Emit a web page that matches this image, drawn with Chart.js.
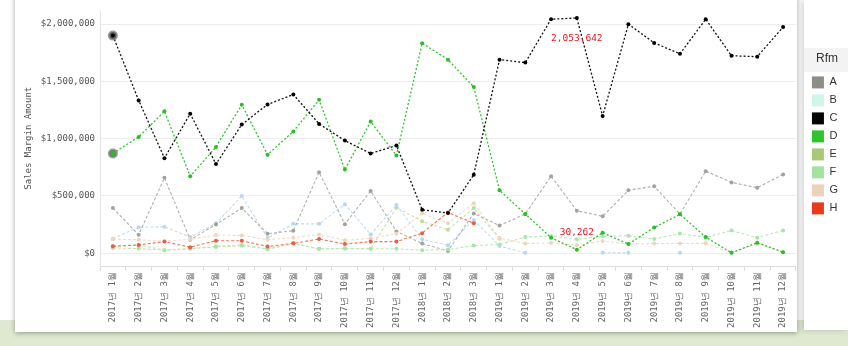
<!DOCTYPE html>
<html>
<head>
<meta charset="utf-8">
<script src="https://cdn.jsdelivr.net/npm/chart.js@4"></script>
<style>
  html, body { margin: 0; padding: 0; }
  body { width: 848px; height: 346px; position: relative; overflow: hidden; background: #fff; }
  .ground { position: absolute; left: 0; top: 320px; width: 848px; height: 26px; background: #dfe9d0; }
  .card { position: absolute; left: 15px; top: -8px; width: 782px; height: 340px; background: #fff; box-shadow: 0 1px 5px rgba(0,0,0,.35); }
  .panel { position: absolute; left: 804px; top: 0; width: 44px; height: 330px; background: #fff; box-shadow: -2px 0 6px rgba(0,0,0,.18); }
  .title-band { position: absolute; left: 804px; top: 48px; width: 44px; height: 24px; background: #f3f3f3; }
  #chart { position: absolute; left: 0; top: 0; }
</style>
</head>
<body>
<div class="ground"></div>
<div class="card"></div>
<div class="panel"></div>
<div class="title-band"></div>
<canvas id="chart" width="848" height="346"></canvas>
<script>
const months = [
  '2017년 1월', '2017년 2월', '2017년 3월', '2017년 4월', '2017년 5월', '2017년 6월',
  '2017년 7월', '2017년 8월', '2017년 9월', '2017년 10월', '2017년 11월', '2017년 12월',
  '2018년 1월', '2018년 2월', '2018년 3월',
  '2019년 1월', '2019년 2월', '2019년 3월', '2019년 4월', '2019년 5월', '2019년 6월',
  '2019년 7월', '2019년 8월', '2019년 9월', '2019년 10월', '2019년 11월', '2019년 12월'
];

const rfmA = [394000, 161000, 658000, 118000, 250000, 394000, 170000, 196000, 707000, 253000, 543000, 190000,
  84000, 20000, 347000,
  241000, 342000, 672000, 371000, 322000, 549000, 584000, 342000, 716000, 618000, 572000, 687000];
const rfmB = [127000, 227000, 230000, 141000, 261000, 500000, 132000, 256000, 256000, 428000, 164000, 420000,
  121000, 69000, 290000,
  63000, 3000, null, null, 3000, 3000, null, 3000, null, null, null, null];
const rfmC = [1900000, 1334000, 830000, 1218000, 778000, 1123000, 1299000, 1385000, 1129000, 983000, 871000, 940000,
  379000, 350000, 685000,
  1690000, 1664000, 2043000, 2053642, 1198000, 2000000, 1836000, 1741000, 2043000, 1724000, 1716000, 1974000];
const rfmD = [871000, 1015000, 1239000, 672000, 928000, 1296000, 860000, 1063000, 1339000, 730000, 1149000, 853000,
  1834000, 1690000, 1451000,
  549000, 342000, 135000, 30262, 178000, 80000, 224000, 339000, 141000, 3000, 92000, 9000];
const rfmE = [45000, 40000, 26000, 38000, 55000, 65000, 40000, 86000, 38000, 42000, 38000, 399000,
  278000, 204000, 394000,
  125000, null, null, null, null, null, null, null, null, null, null, null];
const rfmF = [62000, 72000, 26000, 40000, 60000, 72000, 34000, 84000, 38000, 40000, 38000, 38000,
  26000, 32000, 66000,
  75000, 141000, 150000, 121000, 147000, 153000, 124000, 171000, 138000, 197000, 135000, 199000];
const rfmG = [121000, 118000, 103000, 121000, 158000, 155000, 118000, 135000, 164000, 112000, 129000, 170000,
  347000, 261000, 437000,
  132000, 84000, 89000, 69000, 106000, 80000, 84000, 84000, 86000, 5000, 85000, 8000];
const rfmH = [60000, 72000, 101000, 52000, 109000, 109000, 58000, 86000, 123000, 80000, 101000, 101000,
  175000, 356000, 261000,
  null, null, null, null, null, null, null, null, null, null, null, null];

const rfmNames = ['A', 'B', 'C', 'D', 'E', 'F', 'G', 'H'];
const rfmSeries = [rfmA, rfmB, rfmC, rfmD, rfmE, rfmF, rfmG, rfmH];
const swatchColors = ['#8d8f86', '#d2f5ea', '#050505', '#2dc42d', '#a8c97a', '#a2e3a2', '#ebd2bb', '#e83a1c'];
const lineColors  = ['#b0b0ab', '#c2dcf0', '#111111', '#2ec52e', '#c9e2ad', '#b9e9b9', '#f1dcc8', '#f3745c'];
const dotColors   = ['#a3a39e', '#b9d7ee', '#000000', '#26c026', '#bcdc98', '#a9e4a9', '#efd5bd', '#f05a3e'];
const drawOrder   = [5, 6, 0, 1, 7, 4, 3, 2];
const yTicks = [0, 500000, 1000000, 1500000, 2000000];

// values printed next to the marks (series index, month index)
const markLabels = [
  { series: 2, index: 18, dy: 21 },
  { series: 3, index: 18, dy: -17 }
];

const mono = 'DejaVu Sans Mono';

const datasets = rfmSeries.map((data, i) => {
  const highlight = (i === 2 || i === 3);
  return {
    label: rfmNames[i],
    data,
    order: drawOrder[i],
    borderColor: lineColors[i],
    backgroundColor: dotColors[i],
    borderWidth: highlight ? 1.3 : 1.1,
    borderDash: highlight ? [2, 2] : [3, 2],
    pointBackgroundColor: dotColors[i],
    pointBorderColor: data.map((v, k) => (highlight && k === 0) ? 'rgba(120,120,120,0.75)' : dotColors[i]),
    pointBorderWidth: data.map((v, k) => (highlight && k === 0) ? 3 : 0),
    pointRadius: data.map((v, k) => (highlight && k === 0) ? 3.5 : 2),
    tension: 0,
    spanGaps: false
  };
});

const valueLabels = {
  id: 'valueLabels',
  afterDatasetsDraw(chart) {
    const ctx = chart.ctx;
    ctx.save();
    ctx.font = '9.5px "' + mono + '"';
    ctx.fillStyle = '#f0141e';
    ctx.textAlign = 'center';
    ctx.textBaseline = 'middle';
    markLabels.forEach(m => {
      const pt = chart.getDatasetMeta(m.series).data[m.index];
      const v = rfmSeries[m.series][m.index];
      ctx.fillText(v.toLocaleString('en-US'), pt.x, pt.y + m.dy);
    });
    ctx.restore();
  }
};

new Chart(document.getElementById('chart').getContext('2d'), {
  type: 'line',
  data: { labels: months, datasets },
  options: {
    responsive: false,
    animation: false,
    layout: { padding: { top: 7, left: 0, right: 0, bottom: 0 } },
    plugins: {
      tooltip: { enabled: false },
      legend: {
        position: 'right',
        align: 'start',
        title: {
          display: true, text: 'Rfm', color: '#333',
          font: { family: 'Liberation Sans', size: 12 },
          padding: { top: 46, bottom: 3 }
        },
        labels: {
          boxWidth: 12, boxHeight: 12, padding: 6, color: '#333',
          font: { family: 'Liberation Sans', size: 11 },
          generateLabels: () => rfmNames.map((n, i) => ({
            text: n, fillStyle: swatchColors[i], strokeStyle: swatchColors[i],
            lineWidth: 0, datasetIndex: i, hidden: false
          }))
        }
      }
    },
    scales: {
      x: {
        offset: true,
        grid: { offset: true, drawOnChartArea: false, tickLength: 5, color: '#dcdcdc' },
        border: { color: '#dcdcdc' },
        ticks: {
          minRotation: 90, maxRotation: 90, autoSkip: false, padding: 1,
          color: '#666', font: { family: mono, size: 9 }
        },
        afterFit: (s) => { s.height = 80; }
      },
      y: {
        min: -112000,
        max: 2120000,
        afterBuildTicks: (s) => { s.ticks = yTicks.map(v => ({ value: v })); },
        afterFit: (s) => { s.width = 100; },
        grid: { color: '#eeeeee', drawTicks: false },
        border: { color: '#e4e4e4' },
        ticks: {
          padding: 5, color: '#555', font: { family: mono, size: 9 },
          callback: (v) => '$' + Number(v).toLocaleString('en-US')
        },
        title: {
          display: true, text: 'Sales Margin Amount', color: '#555',
          font: { family: mono, size: 9 },
          padding: { top: 23, bottom: 0 }
        }
      },
      gap: {
        type: 'linear',
        position: 'right',
        display: true,
        grid: { display: false },
        border: { display: false },
        ticks: { display: false },
        afterFit: (s) => { s.width = 10; }
      }
    }
  },
  plugins: [valueLabels]
});
</script>
</body>
</html>
